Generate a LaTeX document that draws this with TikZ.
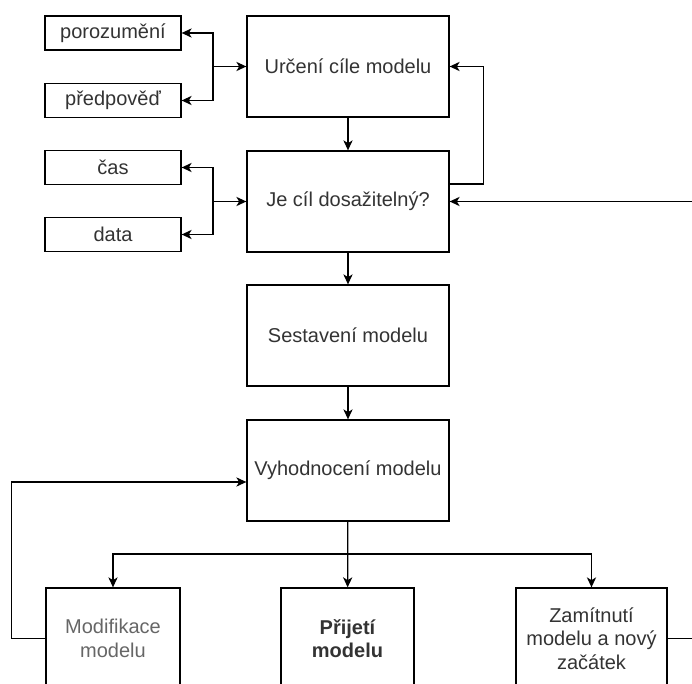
\documentclass[tikz,border=0pt]{standalone}
\usepackage{fontspec}
\setmainfont{Liberation Sans}
\usetikzlibrary{arrows.meta}
\definecolor{txtgray}{HTML}{333333}
\definecolor{lightgray}{HTML}{666666}

\begin{document}
\begin{tikzpicture}[
            x=0.5pt, y=-0.5pt,
            line width=0.65pt,
            every node/.style={draw,rectangle,align=center,inner sep=1pt,
                text=txtgray,font=\fontsize{10}{11.8}\selectfont},
            stepbox/.style={minimum width=101pt,minimum height=50.5pt},
            smallbox/.style={minimum width=68pt,minimum height=17pt},
            endbox/.style={minimum height=50.5pt},
            >={Stealth[length=5pt,width=4.6pt,inset=1.4pt]},
            ]
            \useasboundingbox (0,0) rectangle (692,684);
            \clip (0,0) rectangle (692,684);
            % main column
            \node[stepbox] (goal) at (348,66.5) {Určení cíle modelu};
            \node[stepbox] (reach) at (348,201.5) {Je cíl dosažitelný?};
            \node[stepbox] (build) at (348,335.5) {Sestavení modelu};
            \node[stepbox] (eval) at (348,470.5) {Vyhodnocení modelu};
            % left side boxes
            \node[smallbox] (insight) at (113,33) {porozumění};
            \node[smallbox] (forecast) at (113,100.5) {předpověď};
            \node[smallbox] (time) at (113,167.5) {čas};
            \node[smallbox] (data) at (113,234.5) {data};
            % outcomes
            \node[endbox,minimum width=67pt,text=lightgray] (modify) at (113,638.5) {Modifikace\\modelu};
            \node[endbox,minimum width=66.5pt,font=\fontsize{10}{11.8}\selectfont\bfseries] (accept) at (347.5,638.5) {Přijetí\\modelu};
            \node[endbox,minimum width=75.5pt] (reject) at (591.5,638.5) {Zamítnutí\\modelu a nový\\začátek};

            \coordinate (goalsplit) at (213,66.5);
            \coordinate (reachsplit) at (213,201.5);
            \coordinate (evalsplit) at (348,554);

            \draw[->] (goalsplit) -- (goal.west);
            \draw[->] (goalsplit) |- (insight.east);
            \draw[->] (goalsplit) |- (forecast.east);
            \draw[->] (reachsplit) -- (reach.west);
            \draw[->] (reachsplit) |- (time.east);
            \draw[->] (reachsplit) |- (data.east);

            \draw[->] (goal) -- (reach);
            \draw[->] (reach) -- (build);
            \draw[->] (build) -- (eval);
            \draw[->] ([yshift=8.75pt]reach.east) -- ++(34,0) |- (goal.east);

            \draw[->] (eval) -- (accept);
            \draw[->] (evalsplit) -| (modify.north);
            \draw[->] (evalsplit) -| (reject.north);
            \draw[->] (modify.west) -- ++(-34,0) |- ([yshift=-5.75pt]eval.west);
            \draw[->] (reject.east) -- ++(60,0) |- (reach.east);
        \end{tikzpicture}
\end{document}
